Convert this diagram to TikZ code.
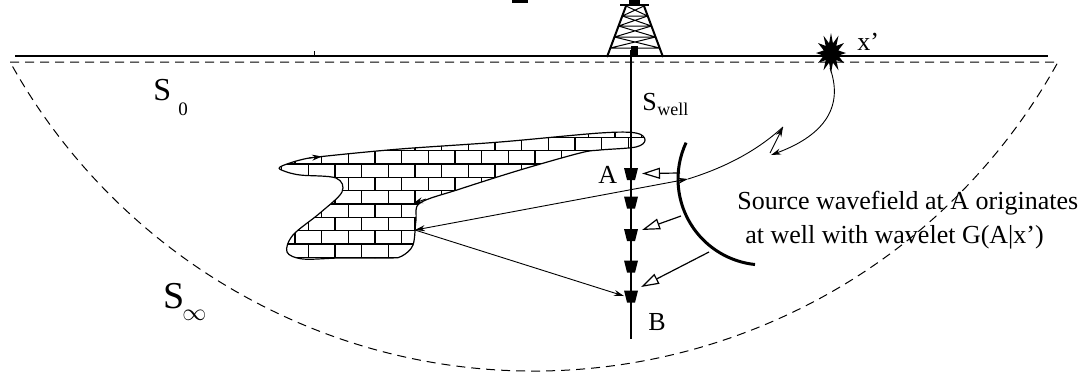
\documentclass[tikz,border=0pt]{standalone}
\usepackage{fontspec}
\setmainfont{Liberation Serif}
\usetikzlibrary{arrows.meta}
\begin{document}
\begin{tikzpicture}[x=0.5pt,y=-0.5pt,
  ray/.style={line width=0.45pt},
  rayhead/.style={-{Stealth[length=5pt,width=3pt]}},
  hollow/.style={line width=0.6pt,-{Triangle[open,length=9pt,width=5.5pt,line width=0.6pt]}},
  lbl/.style={inner sep=0pt, anchor=base west, font=\fontsize{13}{15}\selectfont},
  sub/.style={inner sep=0pt, anchor=base west, font=\fontsize{9}{11}\selectfont},
  brick/.style={line width=0.75pt},
  boundary/.style={line width=0.5pt, dash pattern=on 4.5pt off 3pt},
  receiver/.pic={\fill (-7,-6) -- (7,-6) -- (4,6) -- (-4,6) -- cycle;}
]
\useasboundingbox (0,0) rectangle (1088,376);

% ground surface and the dashed integration boundary S0 / S-infinity
\draw[line width=1pt] (15,56) -- (1048,56);
\draw[line width=0.5pt] (314,51) -- (314,56);
\fill (512,0) rectangle (528,2.5);
\draw[boundary] (10,62) -- (1058,62)
  arc[start angle=-28.95, end angle=-151.05, radius=299.4pt];

% derrick
\draw[line width=1pt] (607,57) -- (626,6);
\draw[line width=1pt] (663,57) -- (644,6);
\draw[line width=1.2pt] (620,5) -- (649,5);
\fill (629,0) rectangle (640,5);
\foreach \ya/\yb in {6/16,16/26,26/37,37/48} {
  \pgfmathsetmacro\la{607+19*(57-\ya)/51}
  \pgfmathsetmacro\ra{663-19*(57-\ya)/51}
  \pgfmathsetmacro\lb{607+19*(57-\yb)/51}
  \pgfmathsetmacro\rb{663-19*(57-\yb)/51}
  \draw[line width=0.5pt] (\la,\ya) -- (\rb,\yb) (\ra,\ya) -- (\lb,\yb) (\lb,\yb) -- (\rb,\yb);
}
\fill (631,46) rectangle (638,57);

% well and receivers
\coordinate (wtop) at (631,50);
\coordinate (wbot) at (631,339);
\draw[line width=1pt] (wtop) -- (wbot);
\coordinate (r1) at (631,174);
\coordinate (r2) at (631,202.5);
\coordinate (r3) at (631,235);
\coordinate (r4) at (631,266.5);
\coordinate (r5) at (631,296.5);
\foreach \r in {r1,r2,r3,r4,r5} \pic at (\r) {receiver};

% reflector body with brick hatching
\begin{scope}
  \clip plot[smooth cycle, tension=0.55] coordinates {
    (280,167) (300,160) (322,156.5) (400,149) (500,142) (600,133) (636,133)
    (645,140) (636,147) (600,150) (580,153) (520,170) (460,189) (420,203)
    (416,220) (413,245) (402,256) (390,258) (340,258) (303,259) (287,252)
    (293,235) (320,213) (342,192) (336,178) (300,175) (284,171)};
  \foreach \j in {-3,...,7} {
    \pgfmathsetmacro\yy{164+13.333*\j}
    \pgfmathsetmacro\off{mod(\j+10,2)*13.333}
    \draw[brick] (270,\yy) -- (660,\yy);
    \foreach \i in {-2,...,13} {
      \pgfmathsetmacro\xx{308.333+26.667*\i+\off}
      \draw[brick] (\xx,\yy) -- (\xx,\yy+13.333);
    }
  }
\end{scope}
\draw[line width=0.6pt] plot[smooth cycle, tension=0.55] coordinates {
    (280,167) (300,160) (322,156.5) (400,149) (500,142) (600,133) (636,133)
    (645,140) (636,147) (600,150) (580,153) (520,170) (460,189) (420,203)
    (416,220) (413,245) (402,256) (390,258) (340,258) (303,259) (287,252)
    (293,235) (320,213) (342,192) (336,178) (300,175) (284,171)};
\draw[ray,rayhead] (309,158) -- (322,156.5);
\draw[ray,rayhead] (426,199) -- (413,203.5);

% source wavefront arc
\draw[line width=1.5pt] (764,179) ++(155:43pt) arc[start angle=155, end angle=264, radius=43pt];

% source x'
\coordinate (xs) at (831,53);
\fill plot[samples at={0,15,...,345}]
  ({831+15*(1-0.5*mod(round(\x/15),2))*cos(\x)},
   {53+20*(1-0.5*mod(round(\x/15),2))*sin(\x)}) -- cycle;
\coordinate (xsb) at (830,68);
\coordinate (xend) at (771,155);
\draw[ray,rayhead] (xsb) .. controls (845,110) and (820,137) .. (xend);

% rays between reflector, well and surface
\coordinate (refl) at (415,230);
\coordinate (arcA) at (688,179);
\coordinate (kink) at (783,127);
\coordinate (kinkb) at (770,153);
\coordinate (atB) at (624,296);
\draw[ray,{Stealth[length=5pt,width=3pt]}-{Stealth[length=5pt,width=3pt]}] (refl) -- (arcA);
\draw[ray] (arcA) .. controls (730,166) and (760,148) .. (kink);
\draw[ray,rayhead] (kinkb) -- (kink);
\draw[ray,rayhead] (refl) -- (atB);

% wavefield arrows from the arc to the receivers
\coordinate (h1) at (680,173);
\coordinate (h2) at (681,216);
\coordinate (h3) at (709,252);
\draw[hollow] (h1) -- (642,173.5);
\draw[hollow] (h2) -- (642,230);
\draw[hollow] (h3) -- (641,287);

% labels
\node[lbl] (A) at (598,183) {A};
\node[lbl] (B) at (648,330) {B};
\node[lbl] (Sw) at (642,110) {S};
\node[sub] (Swi) at (657,115) {well};
\node[inner sep=0pt, anchor=base west, font=\fontsize{16}{18}\selectfont] (S0) at (153,100) {S};
\node[inner sep=0pt, anchor=base west, font=\fontsize{9.5}{11}\selectfont] (S0i) at (178,115) {0};
\node[inner sep=0pt, anchor=base west, font=\fontsize{19}{22}\selectfont] (Sinf) at (163,308) {S};
\node[inner sep=0pt, anchor=base west, font=\fontsize{12}{14}\selectfont] (Sinfi) at (182,320) {$\infty$};
\node[lbl] (xp) at (857,50) {x’};
\node[lbl] (src1) at (737,209) {Source wavefield at A originates};
\node[lbl] (src2) at (745,243) {at well with wavelet G(A|x’)};
\end{tikzpicture}
\end{document}
